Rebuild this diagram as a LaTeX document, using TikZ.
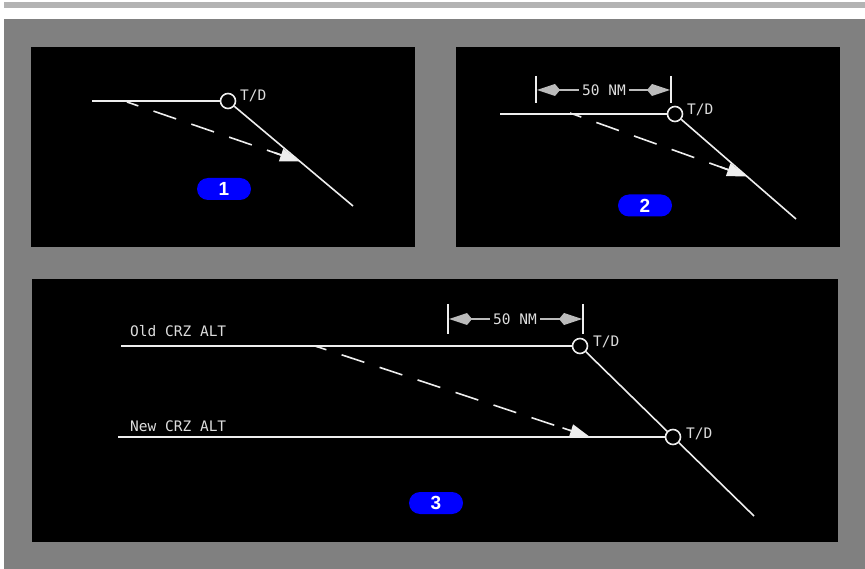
\documentclass[tikz,border=0pt]{standalone}
\usepackage{fontspec}
\setmonofont{DejaVu Sans Mono}
\newfontfamily\badgefont{Liberation Sans}
\usetikzlibrary{arrows.meta,calc}
\definecolor{bandgray}{HTML}{B3B3B3}
\definecolor{bggray}{HTML}{808080}
\definecolor{linecol}{HTML}{EEEEEE}
\definecolor{txtcol}{HTML}{DDDDDD}
\definecolor{dimcol}{HTML}{BBBBBB}
\definecolor{badgeblue}{HTML}{0000FF}
\tikzset{
  panel/.style={fill=black,draw=none},
  pathline/.style={draw=linecol,line width=1.6pt},
  tdcircle/.style={circle,draw=linecol,line width=1.6pt,minimum size=15pt,inner sep=0pt},
  lbl/.style={text=txtcol,font=\ttfamily\fontsize{14.5}{15}\selectfont,inner sep=1pt},
  dashline/.style={draw=linecol,line width=1.6pt,dash pattern=on 24pt off 16pt,dash phase=12pt},
  dasharrow/.style={draw=linecol,line width=1.6pt,-{Triangle[length=20pt,width=13pt,fill=linecol]}},
  dimtick/.style={draw=linecol,line width=1.6pt},
  dimarrow/.style={draw=dimcol,line width=1.6pt,-{Kite[length=23pt,width=12pt,inset=5pt,fill=dimcol]}},
  badge/.style={fill=badgeblue,rounded corners=11pt,minimum width=54pt,minimum height=22pt,inner sep=0pt,text=white,font=\badgefont\bfseries\fontsize{19}{19}\selectfont}
}
\begin{document}
\begin{tikzpicture}[x=1pt,y=-1pt]
\useasboundingbox (0,0) rectangle (865,569);
\fill[white] (0,0) rectangle (865,569);
\fill[bandgray] (4,2) rectangle (865,8);
\fill[bggray] (4,19) rectangle (865,569);
% panels
\fill[panel] (31,47) rectangle (415,247);
\fill[panel] (456,47) rectangle (840,247);
\fill[panel] (32,279) rectangle (838,542);

% ---- Panel 1
\node[tdcircle] (td1) at (228,101) {};
\coordinate (s1) at (92,101);
\coordinate (e1) at (353,206);
\node[lbl,anchor=west] (tdl1) at (239,96) {T/D};
\draw[pathline] (s1) -- (td1.west);
\draw[pathline] (td1) -- (e1);
\coordinate (d1s) at (127,102);
\coordinate (d1e) at (300,161.5);
\draw[dashline] (d1s) -- ($(d1s)!0.9!(d1e)$);
\draw[dasharrow] ($(d1s)!0.85!(d1e)$) -- (d1e);
\node[badge] (b1) at (224,189) {1};

% ---- Panel 2
\node[tdcircle] (td2) at (675,114) {};
\coordinate (s2) at (500,114);
\coordinate (e2) at (796,219);
\node[lbl,anchor=west] (tdl2) at (686,110) {T/D};
\draw[pathline] (s2) -- (td2.west);
\draw[pathline] (td2) -- (e2);
\coordinate (d2s) at (570,113);
\coordinate (d2e) at (747,176.5);
\draw[dashline] (d2s) -- ($(d2s)!0.9!(d2e)$);
\draw[dasharrow] ($(d2s)!0.85!(d2e)$) -- (d2e);
\coordinate (t2a) at (536,76);
\coordinate (t2b) at (536,103);
\coordinate (t2c) at (671,76);
\coordinate (t2d) at (671,103);
\draw[dimtick] (t2a) -- (t2b);
\draw[dimtick] (t2c) -- (t2d);
\node[lbl,inner sep=3pt] (nm2) at (604,90) {50 NM};
\draw[dimarrow] (nm2.west) -- (537,90);
\draw[dimarrow] (nm2.east) -- (670,90);
\node[badge] (b2) at (645,205.5) {2};

% ---- Panel 3
\node[tdcircle] (td3a) at (580,346) {};
\node[tdcircle] (td3b) at (673,437) {};
\coordinate (s3a) at (121,346);
\coordinate (s3b) at (118,437);
\coordinate (e3) at (754,516);
\node[lbl,anchor=west] (tdl3a) at (592,342) {T/D};
\node[lbl,anchor=west] (tdl3b) at (685,434) {T/D};
\node[lbl,anchor=west] (old) at (129,331) {Old CRZ ALT};
\node[lbl,anchor=west] (new) at (129,426) {New CRZ ALT};
\draw[pathline] (s3a) -- (td3a.west);
\draw[pathline] (s3b) -- (td3b.west);
\draw[pathline] (td3a) -- (td3b);
\draw[pathline] (td3b) -- (e3);
\coordinate (d3s) at (315,346);
\coordinate (d3e) at (590,437);
\draw[dashline] (d3s) -- ($(d3s)!0.93!(d3e)$);
\draw[dasharrow] ($(d3s)!0.9!(d3e)$) -- (d3e);
\coordinate (t3a) at (448,304);
\coordinate (t3b) at (448,334);
\coordinate (t3c) at (583,304);
\coordinate (t3d) at (583,334);
\draw[dimtick] (t3a) -- (t3b);
\draw[dimtick] (t3c) -- (t3d);
\node[lbl,inner sep=3pt] (nm3) at (515,319) {50 NM};
\draw[dimarrow] (nm3.west) -- (449,319);
\draw[dimarrow] (nm3.east) -- (582,319);
\node[badge] (b3) at (436,503) {3};
\end{tikzpicture}
\end{document}
